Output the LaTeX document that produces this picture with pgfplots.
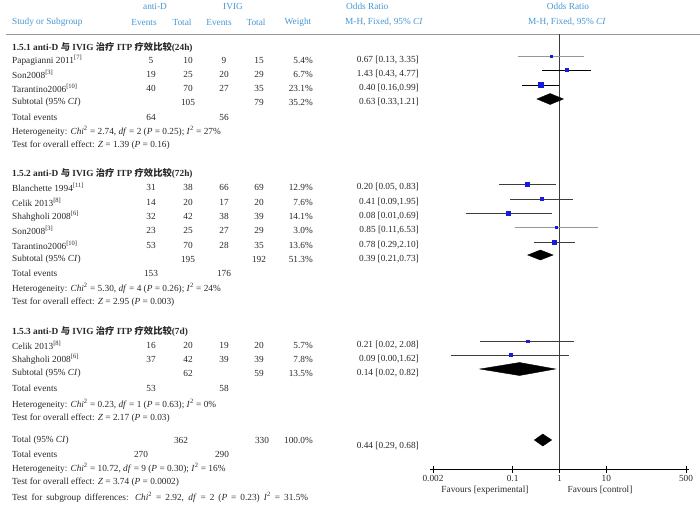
\documentclass[border=0pt]{standalone}
\usepackage{fontspec}
\setmainfont{Liberation Serif}
\newfontfamily\cjk{Noto Sans CJK SC}
\usepackage{pgfplots}
\pgfplotsset{compat=1.18}

\definecolor{hdr}{RGB}{70,150,210}
\definecolor{txt}{RGB}{40,40,40}
\definecolor{sq}{RGB}{25,25,225}
\definecolor{ln}{RGB}{60,60,60}
\definecolor{lg}{RGB}{150,150,150}

% text helpers: x, y in picture pixels (y downwards)
\newcommand\TL[3]{\node[anchor=west] at (#1pt,-#2pt) {#3};}
\newcommand\TC[3]{\node at (#1pt,-#2pt) {#3};}
\newcommand\TR[3]{\node[anchor=east] at (#1pt,-#2pt) {#3};}
% one study row: name, ev1, tot1, ev2, tot2, weight, OR text, y
\newcommand\row[8]{%
  \TL{12}{#8}{#1}\TC{151}{#8}{#2}\TC{188}{#8}{#3}\TC{224}{#8}{#4}%
  \TC{259}{#8}{#5}\TR{313}{#8}{#6}\TR{419}{#8}{#7}}
% CI line and weight square: or, lo, hi, y, half size, line colour
\newcommand\study[6]{%
  \addplot[#6, line width=0.8pt] coordinates {(#2,-#4) (#3,-#4)};
  \addplot[only marks, mark=square*, mark size=#5pt, sq] coordinates {(#1,-#4)};}
% pooled diamond: or, lo, hi, y, half height
\newcommand\diam[5]{%
  \addplot[black, fill=black] coordinates {(#2,-#4) (#1,-#4+#5) (#3,-#4) (#1,-#4-#5)} -- cycle;}
\newcommand\sub[1]{\textsuperscript{[#1]}}
\newcommand\het[4]{Heterogeneity: \textit{Chi}\textsuperscript{2} = #1, \textit{df} = #2 (\textit{P} = #3); \textit{I}\textsuperscript{2} = #4\%}

\begin{document}
\begin{tikzpicture}[every node/.style={inner sep=0pt, font=\fontsize{9.3}{10}\selectfont, text=txt}]
\path[use as bounding box] (0,0) rectangle (700pt,-507pt);

% header
\begin{scope}[every node/.append style={text=hdr}]
\TC{155}{6}{anti-D}
\TC{233}{6}{IVIG}
\TL{346}{6}{Odds Ratio}
\TC{568}{6}{Odds Ratio}
\TL{12}{22}{Study or Subgroup}
\TC{144}{22}{Events}
\TC{182}{22}{Total}
\TC{219}{22}{Events}
\TC{256}{22}{Total}
\TC{298}{22}{Weight}
\TL{345}{22}{M-H, Fixed, 95\% \textit{CI}}
\TC{567}{22}{M-H, Fixed, 95\% \textit{CI}}
\end{scope}
\draw[lg, line width=0.8pt] (6pt,-34pt) -- (700pt,-34pt);

% 1.5.1
\TL{12}{47}{\textbf{1.5.1 anti-D {\cjk 与} IVIG {\cjk 治疗} ITP {\cjk 疗效比较}(24h)}}
\row{Papagianni 2011\sub{7}}{5}{10}{9}{15}{5.4\%}{0.67 [0.13, 3.35]}{60}
\row{Son2008\sub{3}}{19}{25}{20}{29}{6.7\%}{1.43 [0.43, 4.77]}{74}
\row{Tarantino2006\sub{10}}{40}{70}{27}{35}{23.1\%}{0.40 [0.16,0.99]}{88}
\row{Subtotal (95\% \textit{CI})}{}{105}{}{79}{35.2\%}{0.63 [0.33,1.21]}{102}
\row{Total events}{64}{}{56}{}{}{}{117}
\TL{12}{131}{\het{2.74}{2}{0.25}{27}}
\TL{12}{145}{Test for overall effect: \textit{Z} = 1.39 (\textit{P} = 0.16)}

% 1.5.2
\TL{12}{173}{\textbf{1.5.2 anti-D {\cjk 与} IVIG {\cjk 治疗} ITP {\cjk 疗效比较}(72h)}}
\row{Blanchette 1994\sub{11}}{31}{38}{66}{69}{12.9\%}{0.20 [0.05, 0.83]}{187}
\row{Celik 2013\sub{8}}{14}{20}{17}{20}{7.6\%}{0.41 [0.09,1.95]}{202}
\row{Shahgholi 2008\sub{6}}{32}{42}{38}{39}{14.1\%}{0.08 [0.01,0.69]}{216}
\row{Son2008\sub{3}}{23}{25}{27}{29}{3.0\%}{0.85 [0.11,6.53]}{230}
\row{Tarantino2006\sub{10}}{53}{70}{28}{35}{13.6\%}{0.78 [0.29,2.10]}{245}
\row{Subtotal (95\% \textit{CI})}{}{195}{}{192}{51.3\%}{0.39 [0.21,0.73]}{259}
\row{Total events}{153}{}{176}{}{}{}{273}
\TL{12}{288}{\het{5.30}{4}{0.26}{24}}
\TL{12}{302}{Test for overall effect: \textit{Z} = 2.95 (\textit{P} = 0.003)}

% 1.5.3
\TL{12}{331}{\textbf{1.5.3 anti-D {\cjk 与} IVIG {\cjk 治疗} ITP {\cjk 疗效比较}(7d)}}
\row{Celik 2013\sub{8}}{16}{20}{19}{20}{5.7\%}{0.21 [0.02, 2.08]}{345}
\row{Shahgholi 2008\sub{6}}{37}{42}{39}{39}{7.8\%}{0.09 [0.00,1.62]}{359}
\row{Subtotal (95\% \textit{CI})}{}{62}{}{59}{13.5\%}{0.14 [0.02, 0.82]}{373}
\row{Total events}{53}{}{58}{}{}{}{388}
\TL{12}{404}{\het{0.23}{1}{0.63}{0}}
\TL{12}{418}{Test for overall effect: \textit{Z} = 2.17 (\textit{P} = 0.03)}

% overall
\TL{12}{440}{Total (95\% \textit{CI})}
\TC{181}{440}{362}\TC{262}{440}{330}\TR{313}{440}{100.0\%}
\TR{419}{446}{0.44 [0.29, 0.68]}
\TL{12}{454}{Total events}\TC{141}{454}{270}\TC{222}{454}{290}
\TL{12}{468}{\het{10.72}{9}{0.30}{16}}
\TL{12}{482}{Test for overall effect: \textit{Z} = 3.74 (\textit{P} = 0.0002)}
\TL{12}{497}{\makebox[296pt][s]{Test for subgroup differences: \textit{Chi}\textsuperscript{2} = 2.92, \textit{df} = 2 (\textit{P} = 0.23) \textit{I}\textsuperscript{2} = 31.5\%}}

\TC{485}{490}{Favours [experimental]}
\TC{600}{490}{Favours [control]}

\begin{axis}[
  at={(430pt,-469pt)}, anchor=south west,
  scale only axis, width=259pt, height=435pt,
  xmode=log, xmin=0.001726, xmax=579,
  ymin=-469, ymax=-34,
  axis y line=none, axis x line*=bottom,
  x axis line style={black, line width=0.8pt, -},
  xtick={0.002,0.1,1,10,500},
  xticklabels={0.002,0.1,1,10,500},
  xminorticks=false,
  tick align=center, major tick length=7pt,
  xtick style={black, line width=0.8pt},
  xticklabel style={font=\fontsize{9.3}{10}\selectfont, text=txt, inner sep=1pt, yshift=-2pt},
  /pgf/number format/assume math mode=true,
  clip=false,
]
\addplot[ln, line width=0.8pt] coordinates {(1,-34) (1,-469)};

\study{0.67}{0.13}{3.35}{56}{1.0}{lg}
\study{1.43}{0.43}{4.77}{70}{1.4}{black}
\study{0.40}{0.16}{0.99}{85}{2.6}{black}
\diam{0.63}{0.33}{1.21}{99}{5.5}

\study{0.20}{0.05}{0.83}{184}{2.0}{ln}
\study{0.41}{0.09}{1.95}{199}{1.6}{ln}
\study{0.08}{0.01}{0.69}{213}{2.0}{ln}
\study{0.85}{0.11}{6.53}{227}{0.9}{lg}
\study{0.78}{0.29}{2.10}{242}{2.0}{ln}
\diam{0.39}{0.21}{0.73}{255}{5}

\study{0.21}{0.02}{2.08}{341}{1.3}{ln}
\study{0.09}{0.0048}{1.62}{355}{1.5}{ln}
\diam{0.14}{0.02}{0.82}{369}{6.5}

\diam{0.44}{0.29}{0.68}{440}{6}
\end{axis}
\end{tikzpicture}
\end{document}
